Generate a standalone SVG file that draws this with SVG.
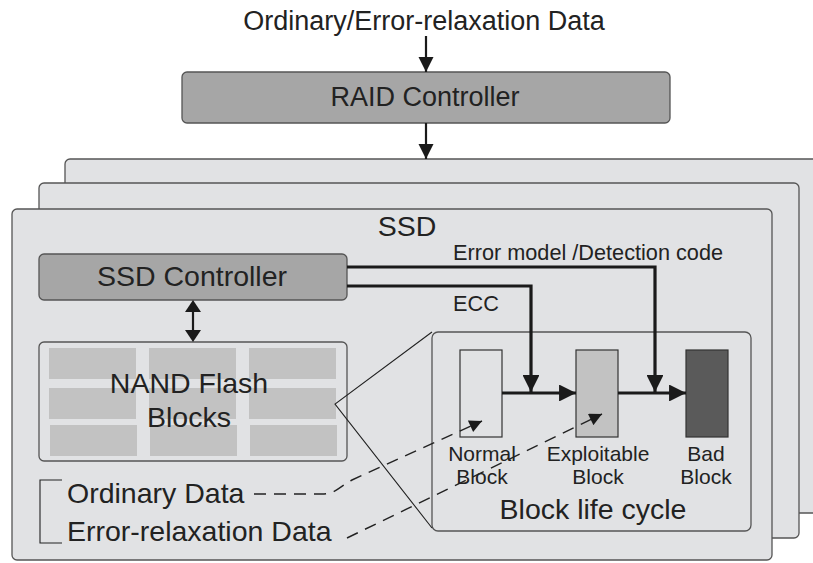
<svg xmlns="http://www.w3.org/2000/svg" width="813" height="563" viewBox="0 0 813 563">
<defs>
<style>
text{font-family:"Liberation Sans",Arial,sans-serif;fill:#222}
.big{font-size:28.5px}
.mid{font-size:27px}
.sm{font-size:21.7px}
.lbl{font-size:21px}
.card{fill:#e1e2e4;stroke:#555;stroke-width:1.3}
.ctrl{fill:#a6a6a6;stroke:#555;stroke-width:1.3}
.cell{fill:#c2c2c2}
.thick{fill:none;stroke:#1a1a1a;stroke-width:3.2}
.thin{fill:none;stroke:#1a1a1a;stroke-width:2.2}
.hair{fill:none;stroke:#222;stroke-width:1.1}
.dash{fill:none;stroke:#222;stroke-width:1.4;stroke-dasharray:12,8}
</style>
<marker id="ah" viewBox="0 0 10 10" refX="10" refY="5" markerWidth="5.3" markerHeight="5.3" markerUnits="strokeWidth" orient="auto"><path d="M0,0 L10,5 L0,10 Z" fill="#1a1a1a"/></marker>
<marker id="ahs" viewBox="0 0 10 10" refX="10" refY="5" markerWidth="7" markerHeight="7" markerUnits="strokeWidth" orient="auto"><path d="M0,0 L10,5 L0,10 Z" fill="#1a1a1a"/></marker>
<marker id="ahd" viewBox="0 0 10 10" refX="10" refY="5" markerWidth="10" markerHeight="9" markerUnits="strokeWidth" orient="auto"><path d="M0,0 L10,5 L0,10 Z" fill="#1a1a1a"/></marker>
</defs>

<g id="top-label"><text class="mid" x="424" y="30" text-anchor="middle">Ordinary/Error-relaxation Data</text></g>

<g id="raid-controller">
<rect class="ctrl" x="182" y="72" width="488" height="51" rx="5"/>
<text class="mid" x="425" y="106" text-anchor="middle">RAID Controller</text>
</g>

<g id="ssd-card-3"><rect class="card" x="65" y="159" width="770" height="354" rx="5"/></g>
<g id="ssd-card-2"><rect class="card" x="39" y="183" width="760" height="355" rx="5"/></g>
<g id="ssd-card-1">
<rect class="card" x="12" y="209" width="760" height="351" rx="5"/>
<text class="big" x="407" y="236" text-anchor="middle">SSD</text>
</g>

<g id="ssd-controller">
<rect class="ctrl" x="39" y="254" width="308" height="46" rx="5"/>
<text class="big" x="192" y="286" text-anchor="middle">SSD Controller</text>
</g>

<g id="nand-flash">
<rect class="card" x="39" y="342" width="308" height="119" rx="5"/>
<rect class="cell" x="49" y="348" width="87" height="31"/>
<rect class="cell" x="149" y="348" width="87" height="31"/>
<rect class="cell" x="249" y="348" width="87" height="31"/>
<rect class="cell" x="49" y="388" width="87" height="31"/>
<rect class="cell" x="149" y="388" width="87" height="31"/>
<rect class="cell" x="249" y="388" width="87" height="31"/>
<rect class="cell" x="50" y="425" width="87" height="31"/>
<rect class="cell" x="150" y="425" width="87" height="31"/>
<rect class="cell" x="250" y="425" width="87" height="31"/>
<text class="big" x="189" y="393" text-anchor="middle">NAND Flash</text>
<text class="big" x="189" y="427" text-anchor="middle">Blocks</text>
</g>

<g id="legend">
<path class="hair" d="M62,480 H40 V543 H62"/>
<text class="big" x="67" y="503">Ordinary Data</text>
<text class="big" x="67" y="541">Error-relaxation Data</text>
</g>

<g id="block-life-cycle">
<rect class="card" x="432" y="332" width="319" height="199" rx="6"/>
<text class="big" x="593" y="519" text-anchor="middle">Block life cycle</text>
</g>

<g id="normal-block">
<rect x="460" y="350" width="42" height="87" fill="#e1e2e4" stroke="#333" stroke-width="1.2"/>
<text class="lbl" x="482" y="461" text-anchor="middle">Normal</text>
<text class="lbl" x="482" y="484" text-anchor="middle">Block</text>
</g>

<g id="exploitable-block">
<rect x="576" y="350" width="42" height="87" fill="#c2c2c2" stroke="#333" stroke-width="1.2"/>
<text class="lbl" x="598" y="461" text-anchor="middle">Exploitable</text>
<text class="lbl" x="598" y="484" text-anchor="middle">Block</text>
</g>

<g id="bad-block">
<rect x="686" y="350" width="42" height="87" fill="#5a5a5a" stroke="#333" stroke-width="1.2"/>
<text class="lbl" x="706" y="461" text-anchor="middle">Bad</text>
<text class="lbl" x="706" y="484" text-anchor="middle">Block</text>
</g>

<g id="connectors">
<line class="thin" x1="426" y1="36" x2="426" y2="72" marker-end="url(#ahs)"/>
<line class="thin" x1="426" y1="123" x2="426" y2="159" marker-end="url(#ahs)"/>
<line class="thin" x1="193" y1="312" x2="193" y2="331"/>
<path d="M193,300 L185,312 L201,312 Z" fill="#1a1a1a"/>
<path d="M193,342 L185,330 L201,330 Z" fill="#1a1a1a"/>
<path class="hair" d="M432,332 L335,404 L432,528"/>
<path class="thick" d="M347,267 H655 V392" marker-end="url(#ah)"/>
<path class="thick" d="M347,286 H531 V392" marker-end="url(#ah)"/>
<line class="thick" x1="502" y1="393" x2="576" y2="393" marker-end="url(#ah)"/>
<line class="thick" x1="618" y1="393" x2="686" y2="393" marker-end="url(#ah)"/>
<text class="sm" x="453" y="260">Error model /Detection code</text>
<text class="sm" x="453" y="311">ECC</text>
<path class="dash" d="M254,494 H322 C336,494 340,486 352,480 L482,421" marker-end="url(#ahd)"/>
<path class="dash" d="M347,538 L602,414" marker-end="url(#ahd)"/>
</g>
</svg>
